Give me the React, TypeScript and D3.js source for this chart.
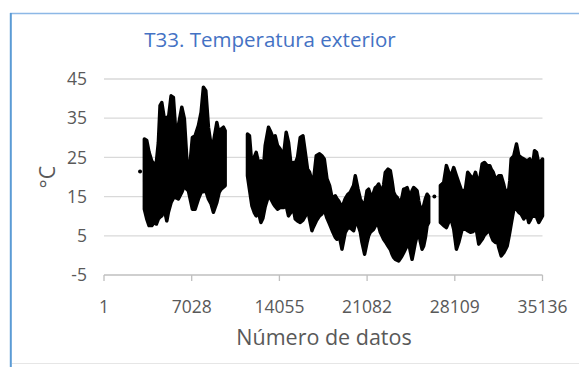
import React from "react";
import * as d3 from "d3";

const yTicks = [-5, 5, 15, 25, 35, 45];
const xTicks = [1, 7028, 14055, 21082, 28109, 35136];

// segment 1 (data index, daily-band high, low)
const seg1Index = [3234,3426,3611,3827,4012,4197,4357,4493,4630,4838,5031,5160,5376,5560,5753,5962,6234,6442,6635,6763,7084,7301,7566,7782,7967,8159,8368,8584,8769,9042,9226,9387,9571,9708];
const seg1High = [29.7,29.3,26.3,24.1,23.3,23.7,28.8,38.2,39,34.8,35.2,34.8,40.7,40.3,31.4,33.1,37.8,34.8,24.6,18.6,30.1,30.5,33.1,36.5,42.9,42,32.7,28,28.8,33.9,31,32.2,32.7,31.8];
const seg1Low = [11.8,9.3,7.6,7.6,8.4,8,9.3,9.8,10.1,11.8,8.8,11,13.5,14.6,14.8,14.4,16.1,17.8,16.9,16.5,11.8,11.8,14.4,16.1,16.3,16.5,14.4,13.1,11,13.5,16.1,16.9,17.4,17.8];

const seg2Index = [11497,11657,11850,12034,12195,12379,12572,12732,12917,13182,13374,13583,13719,13903,14120,14385,14601,14786,14979,15187,15323,15508,15725,15941,16125,16310,16470,16663,16743,17008,17272,17465,17650,17866,18075,18291,18532,18668,18796,19069,19334,19550,19735,20000,20136,20353,20538,20674,20882,21075,21204,21340,21477,21606,21741,21878,22006,22142,22279,22407,22543,22760,22944,23081,23209,23345,23482,23610,23746,23883,24011,24147,24284,24412,24548,24685,24813,24949,25086,25214,25350,25487,25615,25751,25888,26016];
const seg2High = [31,30.5,22.9,25,26.3,23.7,24.1,20.3,28,32.7,31.4,29.7,30.5,28,27.1,25.4,31.4,28.8,23.3,23.7,23.5,25,30.1,30.5,26.3,22,21.2,19,17.8,25.4,25.9,25.4,24.6,19.5,17.8,14.4,15.2,14.4,13.9,12.2,14.5,15.6,16.1,17.8,20.3,16.9,14.4,13.5,12.7,16.5,16.9,15.5,14.8,16,17.3,17.6,18.2,17,16.1,18,21.2,22,21.6,19,16.1,15.2,14.8,14,13.5,14.8,16.9,17,17.3,16,14.8,16.5,17.3,16.9,16.5,14,11.8,12,12.7,14.4,15.6,15];
const seg2Low = [20.3,16.9,12.7,11,10.1,11,8.4,9.5,12.5,15.2,14.4,13.1,12.5,11.8,12.2,12.2,12.7,10.1,11,11.8,9.3,8.8,8.4,9,10,11.8,9.3,6.3,7,8.8,10.1,10.6,11.8,9.5,8,6.3,4.6,4.1,5.9,1.6,5.9,7.1,7,6.3,8,7.8,6,3.3,0.3,3.3,5,5.9,6.3,6.7,7.5,8.4,7.5,5.9,5,4.1,3.5,2.4,1.5,0.3,-0.5,-1,-1.2,-1.4,-0.8,-0.1,0.7,1.6,2.4,3.3,1,-1,1,3.3,5,5.9,3.5,1.6,2.4,4.5,7.6,8.4];

const seg3Index = [26955,27092,27220,27436,27621,27813,28022,28238,28423,28696,28961,29145,29362,29579,29763,30028,30301,30485,30702,30911,31023,31183,31368,31504,31632,31825,32034,32170,32306,32434,32515,32627,32836,33052,33237,33429,33638,33774,33911,34039,34119,34312,34496,34657,34841,35034,35136];
const seg3High = [17.8,18.2,18.6,22.9,21.2,20.3,22.4,20.3,18.6,16.1,16.9,21.2,20.3,19.5,21.2,17.8,23.3,23.7,22.9,22.9,22,21.2,19.5,19.8,20.3,20.3,18,16.1,16.5,16.9,19,24.6,25.4,28.4,25.4,25,24.6,24.3,24.1,24.4,24.6,22,26.7,26.3,23.3,24.1,24.6];
const seg3Low = [8.4,8,7.6,7.1,8.5,9.3,6.7,1.6,3.3,6.7,6.7,6.3,5.9,6.1,8,2.9,4.1,5.2,5.9,6.3,5,3.8,3.3,4.1,2,-0.1,0.7,1.5,2.4,4.5,5.9,8,11.8,11.8,11,10.5,9.3,10.1,10.1,8.4,8.8,10.1,10,9.8,8.4,9.5,10.1];

const loneIndex = [2889, 26473];
const loneValue = [21.4, 15];

const segments = [
  { idx: seg1Index, hi: seg1High, lo: seg1Low },
  { idx: seg2Index, hi: seg2High, lo: seg2Low },
  { idx: seg3Index, hi: seg3High, lo: seg3Low },
];

const W = 579;
const H = 367;
const font = "'Open Sans', sans-serif";

export default function App() {
  const x = d3.scaleLinear().domain([1, 35136]).range([104, 542.5]);
  const y = d3.scaleLinear().domain([-5, 45]).range([275, 79]);

  const area = (s: { idx: number[]; hi: number[]; lo: number[] }) =>
    d3
      .area<number>()
      .x((i) => x(s.idx[i]))
      .y0((i) => y(s.lo[i]))
      .y1((i) => y(s.hi[i]))(d3.range(s.idx.length)) || "";

  return (
    <svg
      width={W}
      height={H}
      style={{ position: "absolute", left: 0, top: 0, background: "#fff" }}
    >
      <rect x={0} y={0} width={W} height={H} fill="#fff" />
      {/* chart frame */}
      <line x1={12} x2={W} y1={363.5} y2={363.5} stroke="#e6e6e6" strokeWidth={1} />
      <line x1={10} x2={W} y1={13.5} y2={13.5} stroke="#8db8e6" strokeWidth={1.5} />
      <line x1={10.8} x2={10.8} y1={13} y2={H} stroke="#5b9bd5" strokeWidth={2} />

      <text
        x={270}
        y={47}
        textAnchor="middle"
        fontFamily={font}
        fontSize={20.5}
        fill="#4472c4"
      >
        T33. Temperatura exterior
      </text>

      {/* gridlines */}
      {yTicks.map((t) => (
        <line
          key={t}
          x1={104}
          x2={542.5}
          y1={y(t)}
          y2={y(t)}
          stroke={t === -5 ? "#bfbfbf" : "#d9d9d9"}
          strokeWidth={1.3}
        />
      ))}
      {xTicks.map((t) => (
        <line
          key={t}
          x1={x(t)}
          x2={x(t)}
          y1={275}
          y2={281}
          stroke="#bfbfbf"
          strokeWidth={1.3}
        />
      ))}

      {yTicks.map((t) => (
        <text
          key={t}
          x={87}
          y={y(t)}
          dy="0.35em"
          textAnchor="end"
          fontFamily={font}
          fontSize={17.5}
          fill="#595959"
        >
          {t}
        </text>
      ))}
      {xTicks.map((t) => (
        <text
          key={t}
          x={x(t)}
          y={312.5}
          textAnchor="middle"
          fontFamily={font}
          fontSize={17.5}
          fill="#595959"
        >
          {t}
        </text>
      ))}

      <text
        x={324}
        y={345}
        textAnchor="middle"
        fontFamily={font}
        fontSize={21.5}
        fill="#595959"
      >
        Número de datos
      </text>
      <text
        transform={`translate(55,177) rotate(-90)`}
        textAnchor="middle"
        fontFamily={font}
        fontSize={21.5}
        fill="#595959"
      >
        °C
      </text>

      {/* data bands */}
      {segments.map((s, k) => (
        <path
          key={k}
          d={area(s)}
          fill="#000"
          stroke="#000"
          strokeWidth={3.5}
          strokeLinejoin="round"
        />
      ))}
      {loneIndex.map((v, i) => (
        <circle key={i} cx={x(v)} cy={y(loneValue[i])} r={2} fill="#000" />
      ))}
    </svg>
  );
}
